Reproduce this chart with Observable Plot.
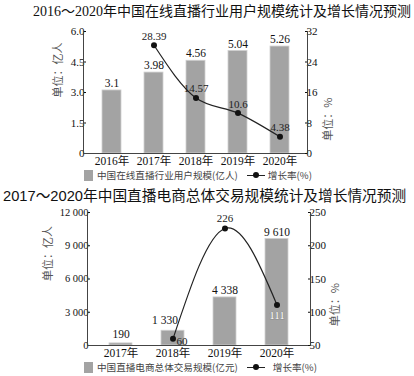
<!DOCTYPE html>
<html>
<head>
<meta charset="utf-8">
<script src="https://cdn.jsdelivr.net/npm/d3@7"></script>
<script src="https://cdn.jsdelivr.net/npm/@observablehq/plot@0.6"></script>
<style>
  body { margin: 0; background: #fff; }
  #root { position: relative; width: 414px; height: 376px; overflow: hidden; font-family: "Liberation Serif", "Noto Sans CJK SC", serif; color: #111; }
  .abs { position: absolute; }
  .title { white-space: nowrap; line-height: 1; }
  .legend { display: flex; align-items: center; font-family: "Noto Sans CJK SC", sans-serif; font-size: 9.6px; color: #444; white-space: nowrap; }
  .sw { width: 9px; height: 11px; background: #a3a3a3; margin-right: 4px; }
  .ln { position: relative; width: 18px; height: 10px; margin: 0 3px 0 9px; }
  .ln::before { content: ""; position: absolute; left: 0; right: 0; top: 4.5px; height: 1.2px; background: #222; }
  .ln::after { content: ""; position: absolute; left: 6px; top: 2px; width: 6px; height: 6px; border-radius: 3px; background: #111; }
</style>
</head>
<body>
<div id="root">
  <div class="abs title" style="left:33px;top:5px;font-size:14px;">2016～2020年中国在线直播行业用户规模统计及增长情况预测</div>
  <div class="abs" id="c1a" style="left:0;top:22px;"></div>
  <div class="abs" id="c1b" style="left:0;top:22px;"></div>
  <div class="abs legend" style="left:84px;top:168px;"><span class="sw"></span><span id="lg1"></span><span class="ln"></span><span>增长率(%)</span></div>

  <div class="abs title" style="left:3px;top:189px;font-size:14.7px;"><span style="font-family:'Liberation Sans','Noto Sans CJK SC',sans-serif;">2017～2020</span>年中国直播电商总体交易规模统计及增长情况预测</div>
  <div class="abs" id="c2a" style="left:0;top:204px;"></div>
  <div class="abs" id="c2b" style="left:0;top:204px;"></div>
  <div class="abs legend" style="left:84px;top:360px;"><span class="sw"></span><span id="lg2"></span><span class="ln" style="margin-left:9px;margin-right:8px"></span><span>增长率(%)</span></div>
</div>
<script>
// ---------- Data ----------
const years1 = ["2016", "2017", "2018", "2019", "2020"];
const users1 = [3.1, 3.98, 4.56, 5.04, 5.26];
const rateYears1 = ["2017", "2018", "2019", "2020"];
const rate1 = [28.39, 14.57, 10.6, 4.38];
const leftTicks1 = [0, 1.5, 3, 4.5, 6];
const rightTicks1 = [0, 8, 16, 24, 32];
const barLegend1 = "中国在线直播行业用户规模(亿人)";

const years2 = ["2017", "2018", "2019", "2020"];
const trade2 = [190, 1330, 4338, 9610];
const rateYears2 = ["2018", "2019", "2020"];
const rate2 = [60, 226, 111];
const leftTicks2 = [0, 3000, 6000, 9000, 12000];
const rightTicks2 = [50, 100, 150, 200, 250];
const barLegend2 = "中国直播电商总体交易规模(亿元)";

const leftUnit = "单位：亿人";
const rightUnit = "单位：%";

document.getElementById("lg1").textContent = barLegend1;
document.getElementById("lg2").textContent = barLegend2;

const FONT = "'Liberation Serif','Noto Sans CJK SC',serif";
const CJK = "'Noto Sans CJK SC',sans-serif";
const spaceFmt = d => d3.format(",")(d).replace(/,/g, " ");

const bars1 = years1.map((y, i) => ({year: y, v: users1[i]}));
const line1 = rateYears1.map((y, i) => ({year: y, v: rate1[i]}));
const bars2 = years2.map((y, i) => ({year: y, v: trade2[i]}));
const line2 = rateYears2.map((y, i) => ({year: y, v: rate2[i]}));
const pick = (arr, yr) => arr.filter(d => d.year === yr);

function common(w, h, mt, mb, ml, mr, domainX, showX) {
  return {
    width: w, height: h, marginTop: mt, marginBottom: mb, marginLeft: ml, marginRight: mr,
    style: {fontFamily: FONT, fontSize: "11px", color: "#111", background: "transparent", overflow: "visible"},
    x: {domain: domainX, type: "band", paddingInner: 0.55, paddingOuter: 0.41, axis: showX ? undefined : null, label: null}
  };
}

// ---------- Chart 1 ----------
document.getElementById("c1a").append(Plot.plot({
  ...common(414, 146, 9, 15, 83, 107, years1, true),
  y: {domain: [0, 6]},
  marks: [
    Plot.barY(bars1, {x: "year", y: "v", fill: "#a3a3a3", stroke: "#cfcfcf", strokeWidth: 0.8}),
    Plot.text(bars1, {x: "year", y: "v", text: d => String(d.v), dy: -7, fontSize: 11.5, fill: "#111"}),
    Plot.axisX({tickSize: 0, tickPadding: 3, tickFormat: d => d + "年", fontSize: 11.5, fill: "#111", label: null}),
    Plot.axisY({ticks: leftTicks1, tickSize: -3, tickPadding: 2, tickFormat: d => d === 0 ? "0" : d.toFixed(1), fontSize: 11, fill: "#111", label: null}),
    Plot.frame({anchor: "left", stroke: "#444"}),
    Plot.frame({anchor: "bottom", stroke: "#444"}),
    Plot.text([leftUnit], {frameAnchor: "left", dx: -25, dy: 5, rotate: -90, fontSize: 11, fill: "#555", fontFamily: CJK})
  ]
}));
document.getElementById("c1b").append(Plot.plot({
  ...common(414, 146, 9, 15, 83, 107, years1, false),
  y: {domain: [0, 32]},
  marks: [
    Plot.lineY(line1, {x: "year", y: "v", curve: "monotone-x", stroke: "#222", strokeWidth: 1.2}),
    Plot.dot(line1, {x: "year", y: "v", r: 3, fill: "#111"}),
    Plot.text(line1, {x: "year", y: "v", text: d => String(d.v), dy: -9, fontSize: 11, fill: "#222"}),
    Plot.axisY({anchor: "right", ticks: rightTicks1, tickSize: -3, tickPadding: 2, fontSize: 11, fill: "#111", label: null}),
    Plot.frame({anchor: "right", stroke: "#444"}),
    Plot.text([rightUnit], {frameAnchor: "right", dx: 21, dy: 5, rotate: -90, fontSize: 11, fill: "#555", fontFamily: CJK})
  ]
}));

// ---------- Chart 2 ----------
document.getElementById("c2a").append(Plot.plot({
  ...common(414, 156, 8, 15, 87, 104, years2, true),
  y: {domain: [0, 12000]},
  marks: [
    Plot.barY(bars2, {x: "year", y: "v", fill: "#a3a3a3", stroke: "#cfcfcf", strokeWidth: 0.8}),
    Plot.text(pick(bars2, "2017"), {x: "year", y: "v", text: d => spaceFmt(d.v), dy: -9, fontSize: 11.5, fill: "#111"}),
    Plot.text(pick(bars2, "2018"), {x: "year", y: "v", text: d => spaceFmt(d.v), dy: -10, dx: -8, fontSize: 11.5, fill: "#111"}),
    Plot.text(bars2.filter(d => +d.year >= 2019), {x: "year", y: "v", text: d => spaceFmt(d.v), dy: -7, fontSize: 11.5, fill: "#111"}),
    Plot.axisX({tickSize: 0, tickPadding: 3, tickFormat: d => d + "年", fontSize: 11.5, fill: "#111", label: null}),
    Plot.axisY({ticks: leftTicks2, tickSize: -3, tickPadding: 2, tickFormat: spaceFmt, fontSize: 10.5, fill: "#111", label: null}),
    Plot.frame({anchor: "left", stroke: "#444"}),
    Plot.frame({anchor: "bottom", stroke: "#444"}),
    Plot.text([leftUnit], {frameAnchor: "left", dx: -39, dy: 2, rotate: -90, fontSize: 11, fill: "#555", fontFamily: CJK})
  ]
}));
document.getElementById("c2b").append(Plot.plot({
  ...common(414, 156, 8, 15, 87, 104, years2, false),
  y: {domain: [50, 250]},
  marks: [
    Plot.lineY(line2, {x: "year", y: "v", curve: "natural", stroke: "#222", strokeWidth: 1.2}),
    Plot.dot(line2, {x: "year", y: "v", r: 3, fill: "#111"}),
    Plot.text(pick(line2, "2018"), {x: "year", y: "v", text: d => String(d.v), dx: 9, dy: 3, fontSize: 11, fill: "#222"}),
    Plot.text(pick(line2, "2019"), {x: "year", y: "v", text: d => String(d.v), dy: -10, fontSize: 11, fill: "#222"}),
    Plot.text(pick(line2, "2020"), {x: "year", y: "v", text: d => String(d.v), dy: 11, fontSize: 11, fill: "#fff", stroke: "#777", strokeWidth: 0.6}),
    Plot.axisY({anchor: "right", ticks: rightTicks2, tickSize: -3, tickPadding: 2, fontSize: 11, fill: "#111", label: null}),
    Plot.frame({anchor: "right", stroke: "#444"}),
    Plot.text([rightUnit], {frameAnchor: "right", dx: 25, dy: 4, rotate: -90, fontSize: 11, fill: "#555", fontFamily: CJK})
  ]
}));
</script>
</body>
</html>
